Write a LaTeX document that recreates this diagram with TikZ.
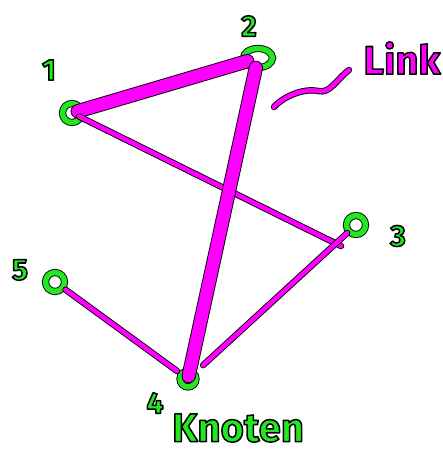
\documentclass[tikz,border=0pt]{standalone}
\usepackage{fontspec}
\setmainfont{Fira Sans}
\usetikzlibrary{shapes.geometric}
\definecolor{knotgreen}{RGB}{34,232,34}
\definecolor{linkpink}{RGB}{255,0,255}
% text with a black outline (stroke after fill)
\newcommand\outlined[2]{{\color{#1}\special{pdf:code 0 0 0 RG 2 Tr 1.5 w 1 j}#2\special{pdf:code 0 Tr}}}

\begin{document}
\begin{tikzpicture}[x=1pt,y=-1pt,
  knot/.style={ellipse,draw=black,double=knotgreen,double distance=5.4pt,line width=0.9pt,minimum size=19pt,inner sep=0pt},
  thinlink/.style={draw=black,double=linkpink,double distance=4.6pt,line width=0.9pt,line cap=round},
  thicklink/.style={draw=black,double=linkpink,double distance=12.5pt,line width=0.9pt,line cap=round},
  knotlabel/.style={inner sep=0pt,font=\bfseries\fontsize{30}{30}\selectfont}]
\useasboundingbox (0,0) rectangle (443,452);
% knots
\node[knot] (n1) at (72,113) {};
\node[knot,minimum width=29pt,minimum height=19pt] (n2) at (258,58) {};
\node[knot] (n3) at (356,225) {};
\node[knot,minimum size=16pt] (n4) at (188,379) {};
\node[knot] (n5) at (55,282) {};
\coordinate (j3) at (341,246);
% links
\draw[thicklink,shorten <=-4pt,shorten >=-3pt] (n1) -- (n2);
\draw[thinlink,shorten <=-2pt] (n1) -- (j3);
\draw[thicklink,shorten >=3pt] (n2) -- (n4.center);
\draw[thinlink,shorten <=3pt,shorten >=5pt] (n5) -- (n4);
\draw[thinlink,shorten <=2pt,shorten >=12pt] (n3) -- (n4);
\draw[thinlink] (274,107) .. controls (284,96) and (304,88) .. (318,91)
  .. controls (330,94) and (336,80) .. (349,70);
% labels
\node[knotlabel] (l1) at (49,70) {\outlined{knotgreen}{1}};
\node[knotlabel] (l2) at (249,26) {\outlined{knotgreen}{2}};
\node[knotlabel] (l3) at (398,236) {\outlined{knotgreen}{3}};
\node[knotlabel] (l4) at (155,403) {\outlined{knotgreen}{4}};
\node[knotlabel] (l5) at (20,270) {\outlined{knotgreen}{5}};
\node[inner sep=0pt,font=\bfseries\fontsize{40}{40}\selectfont] (link) at (402,58) {\outlined{linkpink}{Link}};
\node[inner sep=0pt,font=\bfseries\fontsize{40}{40}\selectfont] (knoten) at (238,428) {\outlined{knotgreen}{Knoten}};
\end{tikzpicture}
\end{document}
